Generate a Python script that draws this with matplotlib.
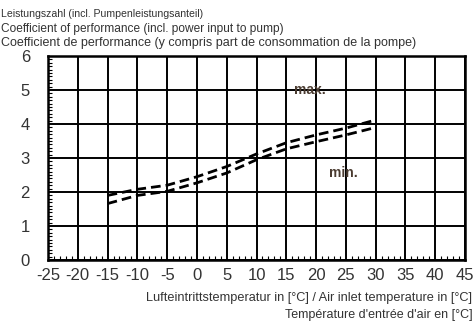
import matplotlib
matplotlib.use("Agg")
import matplotlib.pyplot as plt
from matplotlib.ticker import MultipleLocator

# Values
temps = [-15, -10, -5, 0, 5, 10, 15, 20, 25, 30]
cop_max = [1.90, 2.08, 2.20, 2.45, 2.75, 3.12, 3.45, 3.68, 3.88, 4.12]
cop_min = [1.66, 1.90, 2.02, 2.27, 2.56, 2.95, 3.27, 3.48, 3.68, 3.90]
x_ticks = [-25, -20, -15, -10, -5, 0, 5, 10, 15, 20, 25, 30, 35, 40, 45]
y_ticks = [0, 1, 2, 3, 4, 5, 6]

title_lines = [
    "Leistungszahl (incl. Pumpenleistungsanteil)",
    "Coefficient of performance (incl. power input to pump)",
    "Coefficient de performance (y compris part de consommation de la pompe)",
]
xlabel_lines = [
    "Lufteintrittstemperatur in [°C] / Air inlet temperature in [°C]",
    "Température d'entrée d'air en [°C]",
]

TEXT = "#333333"
plt.rcParams["font.family"] = ["Liberation Sans", "DejaVu Sans"]
plt.rcParams["axes.unicode_minus"] = False

fig = plt.figure(figsize=(4.77, 3.24), dpi=100)
ax = fig.add_axes([0.1006, 0.1975, 0.8744, 0.6295])

ax.set_xlim(-25, 45)
ax.set_ylim(0, 6)
ax.set_xticks(x_ticks)
ax.set_yticks(y_ticks)
ax.xaxis.set_minor_locator(MultipleLocator(1))
ax.yaxis.set_minor_locator(MultipleLocator(0.1))
ax.grid(True, which="major", color="black", linewidth=1.4)
ax.tick_params(which="major", length=0, pad=13, labelsize=12, labelcolor=TEXT)
ax.tick_params(axis="x", which="major", pad=6)
ax.tick_params(which="minor", direction="in", length=3, width=0.8, color="black")
for s in ax.spines.values():
    s.set_linewidth(1.8)

ax.plot(temps, cop_max, color="black", linewidth=2, dashes=(3.5, 1.8))
ax.plot(temps, cop_min, color="black", linewidth=2, dashes=(3.5, 1.8))

ax.text(19, 5.0, "max.", fontsize=10, fontweight="bold", color="#4a3b30",
        ha="center", va="center")
ax.text(24.5, 2.55, "min.", fontsize=10, fontweight="bold", color="#4a3b30",
        ha="center", va="center")

fig.text(0.002, 1 - 14 / 324, title_lines[0], fontsize=7.6, color=TEXT, va="center")
fig.text(0.002, 1 - 29 / 324, title_lines[1], fontsize=8.6, color=TEXT, va="center")
fig.text(0.002, 1 - 43 / 324, title_lines[2], fontsize=9.0, color=TEXT, va="center")

fig.text(0.99, 1 - 298 / 324, xlabel_lines[0], fontsize=9.2, color=TEXT,
         ha="right", va="center")
fig.text(0.99, 1 - 315 / 324, xlabel_lines[1], fontsize=9.0, color=TEXT,
         ha="right", va="center")

fig.savefig("out.png", dpi=100)
plt.close(fig)
